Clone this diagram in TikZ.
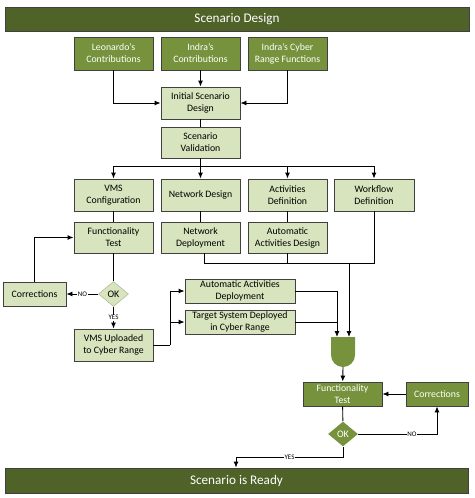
\documentclass[tikz,border=0pt]{standalone}
\usepackage{fontspec}
\setmainfont{Carlito}
\usetikzlibrary{shapes.geometric,arrows.meta,calc}

\definecolor{bardark}{HTML}{4F6228}
\definecolor{boxdark}{HTML}{76923C}
\definecolor{boxlight}{HTML}{D7E4BD}

\tikzset{
  bar/.style={draw=black!75, fill=bardark, text=white, font=\fontsize{13.2}{15}\selectfont, inner sep=0pt},
  darkbox/.style={draw=black!75, fill=boxdark, text=white, align=center,
    font=\fontsize{9.8}{12}\selectfont, inner sep=0pt, minimum width=79pt},
  lightbox/.style={darkbox, fill=boxlight, text=black},
  okdiamond/.style={diamond, fill=boxlight, minimum width=30pt, minimum height=25pt,
    inner sep=0pt, font=\fontsize{10}{11}\selectfont},
  lbl/.style={fill=white, inner sep=0.6pt, font=\fontsize{7}{8}\selectfont},
  arr/.style={-{Latex[length=6pt,width=5pt]}},
}

\begin{document}
\begin{tikzpicture}[x=1pt, y=-1pt, line width=0.9pt]
    \useasboundingbox (0,0) rectangle (474,498);
    %--- top bar and inputs ---
    \node[bar, minimum width=464pt, minimum height=24pt] (title) at (237,19) {Scenario Design};
    \node[darkbox, minimum height=33pt] (leo)   at (113.5,53.5) {Leonardo’s\\Contributions};
    \node[darkbox, minimum height=33pt] (indra) at (200.5,53.5) {Indra’s\\Contributions};
    \node[darkbox, minimum height=33pt] (cyber) at (287.5,53.5) {Indra’s Cyber\\Range Functions};
    \node[lightbox, minimum height=32pt] (init)  at (200.5,103) {Initial Scenario\\Design};
    \node[lightbox, minimum height=31pt] (valid) at (200.5,142.5) {Scenario\\Validation};
    \draw[arr] (leo) |- (init);
    \draw[arr] (indra) -- (init);
    \draw[arr] (cyber) |- (init);
    \draw (init) -- (valid);
    %--- four branches ---
    \node[lightbox, minimum height=32pt] (vms) at (113.5,195) {VMS\\Configuration};
    \node[lightbox, minimum height=32pt] (net) at (200.5,195) {Network Design};
    \node[lightbox, minimum height=32pt] (act) at (287.5,195) {Activities\\Definition};
    \node[lightbox, minimum height=32pt, minimum width=80pt] (wf) at (374,195) {Workflow\\Definition};
    \coordinate (bus) at (200.5,166);
    \draw (valid) -- (bus);
    \draw[arr] (bus) -| (vms);
    \draw[arr] (bus) -- (net);
    \draw[arr] (bus) -| (act);
    \draw[arr] (bus) -| (wf);
    \node[lightbox, minimum height=31pt] (ftest)  at (113.5,237.5) {Functionality\\Test};
    \node[lightbox, minimum height=31pt] (netdep) at (200.5,237.5) {Network\\Deployment};
    \node[lightbox, minimum height=31pt] (autodes) at (287.5,237.5) {Automatic\\Activities Design};
    \draw (vms) -- (ftest);
    \draw (net) -- (netdep);
    \draw (act) -- (autodes);
    %--- VMS test loop ---
    \node[lightbox, minimum width=63pt, minimum height=24pt] (corr) at (34.5,294) {Corrections};
    \node[okdiamond, draw=boxlight!80!black, line width=0.5pt] (ok) at (113.5,294) {OK};
    \node[lightbox, minimum height=32pt] (upl) at (113.5,345) {VMS Uploaded\\to Cyber Range};
    \draw (ftest) -- (ok);
    \draw[arr] (ok) -- node[lbl] {NO} (corr);
    \draw[arr] (corr) |- (ftest);
    \draw[arr] (ok) -- node[lbl] {YES} (upl);
    %--- deployments ---
    \node[lightbox, minimum width=110pt, minimum height=24pt] (autodep) at (240,291) {Automatic Activities\\Deployment};
    \node[lightbox, minimum width=110pt, minimum height=24pt] (target)  at (240,322) {Target System Deployed\\in Cyber Range};
    \coordinate (split) at (170,345);
    \draw (upl) -- (split);
    \draw[arr] (split) |- (autodep);
    \draw[arr] (split) |- (target);
    %--- merge gate ---
    \fill[boxdark] (331,337) -- (355,337) -- (355,355) arc[start angle=0, end angle=-180, radius=12pt] -- cycle;
    \coordinate (gin1) at (337,337);
    \coordinate (gin2) at (349,337);
    \coordinate (gout) at (343,367);
    \coordinate (join) at (349,263);
    \draw ([xshift=3.5pt]netdep.south) |- (join);
    \draw (autodes) |- (join);
    \draw (wf) |- (join);
    \draw[arr] (join) -- (gin2);
    \draw[arr] (autodep) -| (gin1);
    \draw (target.east) -- (target.east -| gin1);
    %--- final test loop ---
    \node[darkbox, minimum height=24pt] (ftest2) at (342.5,394) {Functionality\\Test};
    \node[darkbox, minimum width=62pt, minimum height=24pt] (corr2) at (437,394) {Corrections};
    \node[okdiamond, fill=boxdark, text=white] (ok2) at (343,434) {OK};
    \node[bar, minimum width=463pt, minimum height=25pt] (ready) at (236.5,480.5) {Scenario is Ready};
    \coordinate (yturn) at (236,457);
    \draw[arr] (gout) -- (ftest2);
    \draw[arr] (corr2) -- (ftest2);
    \draw (ftest2) -- (ok2);
    \draw[arr] (ok2.east) -| node[lbl, pos=0.34] {NO} (corr2);
    \draw[arr] (ok2.south) |- node[lbl, pos=0.75] {YES} (yturn) -- (yturn |- ready.north);
\end{tikzpicture}
\end{document}
